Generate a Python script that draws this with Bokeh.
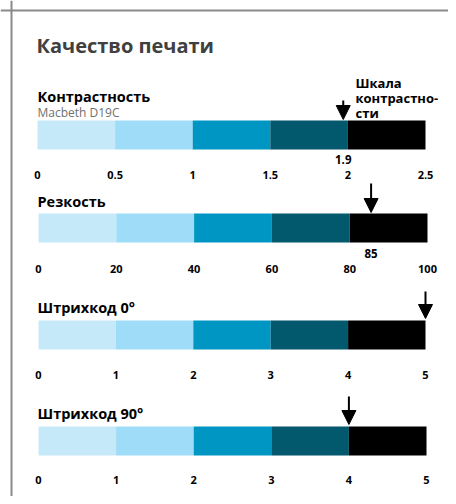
from bokeh.plotting import figure
from bokeh.models import Range1d, Span, Arrow, NormalHead, ColumnDataSource
from bokeh.core.properties import value
from bokeh.embed import file_html
from bokeh.resources import INLINE

# ---------------- data ----------------
title = "Качество печати"
row_names = ["Контрастность", "Резкость", "Штрихкод 0°", "Штрихкод 90°"]
row_subtitle = "Macbeth D19C"
scale_note = ["Шкала", "контрастно-", "сти"]
scale_max = [2.5, 100, 5, 5]
ticks_contrast = [0, 0.5, 1, 1.5, 2, 2.5]
ticks_sharp = [0, 20, 40, 60, 80, 100]
ticks_bar0 = [0, 1, 2, 3, 4, 5]
ticks_bar90 = [0, 1, 2, 3, 4, 5]
labels_contrast = ["0", "0.5", "1", "1.5", "2", "2.5"]
labels_sharp = ["0", "20", "40", "60", "80", "100"]
labels_bar0 = ["0", "1", "2", "3", "4", "5"]
labels_bar90 = ["0", "1", "2", "3", "4", "5"]
marker_values = [1.97, 85.5, 5.0, 4.0]
value_labels = ["1.9", "85", "", ""]
segment_colors = ["#c6e9fa", "#9fdcf7", "#0096c3", "#02596d", "#000000"]

all_ticks = [ticks_contrast, ticks_sharp, ticks_bar0, ticks_bar90]
all_labels = [labels_contrast, labels_sharp, labels_bar0, labels_bar90]

# ---------------- layout (pixels) ----------------
W, H = 448, 496
X0, Y0 = 0, 0
bar_px = [(37, 425), (38, 427), (38, 425), (38, 426)]
name_y = [96, 201, 307, 413]
bar_y = [(120, 149), (213, 242), (320, 349), (426, 455)]
tick_y = [174, 268, 374, 479]
val_y = [159, 253, None, None]
arrow_y = [(100, 119), (183, 212), (291, 318), (396, 424)]

FONT = "Open Sans"

p = figure(width=W, height=H, output_backend="svg", toolbar_location=None,
           x_range=Range1d(X0, X0 + W), y_range=Range1d(Y0 + H, Y0),
           x_axis_type=None, y_axis_type=None, min_border=0,
           outline_line_color=None, background_fill_color="white",
           border_fill_color="white")
p.xgrid.visible = False
p.ygrid.visible = False

# frame: top and left lines
p.add_layout(Span(location=10, dimension="width", line_color="#8a8a8a", line_width=2))
p.add_layout(Span(location=11, dimension="height", line_color="#8a8a8a", line_width=2))

# scales for each row
for i, vmax in enumerate(scale_max):
    a, b = bar_px[i]
    s = (b - a) / vmax
    start = -(a - X0) / s
    end = vmax + (X0 + W - b) / s
    p.extra_x_ranges[f"r{i}"] = Range1d(start, end)

def txt(x, y, t, size, color="black", bold=True, align="left", rng="default"):
    p.text(x=[x], y=[y], text=[t], text_font=value(FONT), text_font_size=f"{size}px",
           text_color=color, text_font_style="bold" if bold else "normal",
           text_align=align, text_baseline="alphabetic", x_range_name=rng)

txt(36, 45, title, 20, color="#404040")
txt(37, 112, row_subtitle, 12, color="#707070", bold=False)
for j, t in enumerate(scale_note):
    txt(355, [82, 97, 112][j], t, 13)

for i in range(4):
    rng = f"r{i}"
    tk = all_ticks[i]
    txt(37, name_y[i], row_names[i], 14.5)
    src = ColumnDataSource(dict(left=tk[:-1], right=tk[1:], color=segment_colors))
    p.quad(left="left", right="right", top=bar_y[i][0], bottom=bar_y[i][1],
           fill_color="color", line_color=None, source=src, x_range_name=rng)
    p.text(x=tk, y=[tick_y[i]] * len(tk), text=all_labels[i], text_font=value(FONT),
           text_font_size="11px", text_font_style="bold", text_color="black",
           text_align="center", text_baseline="alphabetic", x_range_name=rng)
    mv = marker_values[i]
    p.add_layout(Arrow(x_start=mv, x_end=mv, y_start=arrow_y[i][0], y_end=arrow_y[i][1],
                       line_color="black", line_width=2, x_range_name=rng,
                       end=NormalHead(size=14, fill_color="black", line_color="black", line_width=1)))
    if value_labels[i]:
        txt(mv, val_y[i], value_labels[i], 11.5, align="center", rng=rng)

open("out.html", "w").write(file_html(p, INLINE))
